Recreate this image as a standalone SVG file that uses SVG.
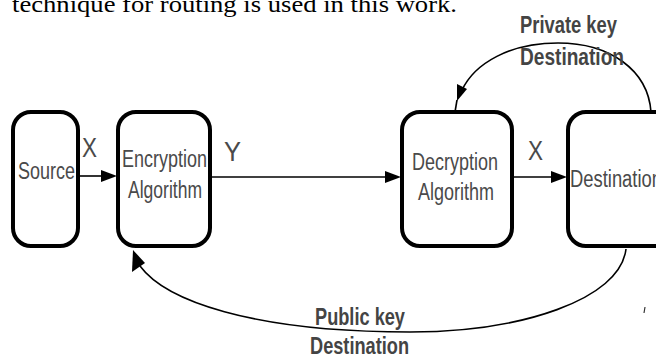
<svg xmlns="http://www.w3.org/2000/svg" width="656" height="358" viewBox="0 0 656 358">
  <style>
    .box { fill: #fff; stroke: #000; stroke-width: 4; }
    .lbl { font-family: "Liberation Sans", Arial, sans-serif; fill: #4a4a4a; font-size: 23px; }
    .key { font-family: "Liberation Sans", Arial, sans-serif; fill: #444; font-size: 24px; font-weight: bold; }
    .sym { font-family: "Liberation Sans", Arial, sans-serif; fill: #4a4a4a; font-size: 27px; }
    .wire { fill: none; stroke: #000; stroke-width: 1.6; }
    .head { fill: #000; }
  </style>
  <rect width="656" height="358" fill="#fff"/>

  <!-- caption line from the surrounding text -->
  <text x="12" y="12" font-family="Liberation Serif, serif" font-size="23" fill="#000" textLength="445" lengthAdjust="spacingAndGlyphs">technique for routing is used in this work.</text>

  <g id="source">
    <rect class="box" x="13" y="112" width="65" height="134" rx="18"/>
    <text class="lbl" x="18" y="179" textLength="57" lengthAdjust="spacingAndGlyphs">Source</text>
  </g>

  <g id="encryption">
    <rect class="box" x="118" y="112" width="92" height="134" rx="18"/>
    <text class="lbl" x="122" y="167" textLength="85" lengthAdjust="spacingAndGlyphs">Encryption</text>
    <text class="lbl" x="128" y="198" textLength="74" lengthAdjust="spacingAndGlyphs">Algorithm</text>
  </g>

  <g id="decryption">
    <rect class="box" x="402" y="112" width="110" height="134" rx="18"/>
    <text class="lbl" x="412" y="170" textLength="86" lengthAdjust="spacingAndGlyphs">Decryption</text>
    <text class="lbl" x="418" y="200" textLength="76" lengthAdjust="spacingAndGlyphs">Algorithm</text>
  </g>

  <g id="destination">
    <rect class="box" x="568" y="112" width="110" height="134" rx="18"/>
    <text class="lbl" x="570" y="187" textLength="92" lengthAdjust="spacingAndGlyphs">Destination</text>
  </g>

  <g id="connectors">
    <!-- Source to Encryption -->
    <line class="wire" x1="80" y1="176" x2="104" y2="176"/>
    <polygon class="head" points="117,176 101,170 101,182"/>
    <text class="sym" x="82" y="157" textLength="15" lengthAdjust="spacingAndGlyphs">X</text>

    <!-- Encryption to Decryption -->
    <line class="wire" x1="212" y1="177" x2="388" y2="177"/>
    <polygon class="head" points="401,177 385,171 385,183"/>
    <text class="sym" x="224" y="161" font-size="32" textLength="17" lengthAdjust="spacingAndGlyphs">Y</text>

    <!-- Decryption to Destination -->
    <line class="wire" x1="514" y1="177" x2="554" y2="177"/>
    <polygon class="head" points="567,177 551,171 551,183"/>
    <text class="sym" x="528" y="160" textLength="15" lengthAdjust="spacingAndGlyphs">X</text>

    <!-- private key path, Destination back to Decryption -->
    <path class="wire" d="M651,112 C648,70 610,43 558,43 C510,43 475,63 462,90"/>
    <line class="wire" x1="457" y1="100" x2="455" y2="112"/>
    <polygon class="head" points="457,101 457,84 467,89"/>
    <text class="key" x="520" y="33" textLength="97" lengthAdjust="spacingAndGlyphs">Private key</text>
    <text class="key" x="520" y="65" textLength="104" lengthAdjust="spacingAndGlyphs">Destination</text>

    <!-- public key path, Destination back to Encryption -->
    <path class="wire" d="M626,249 C620,300 520,332 410,332 C250,332 165,300 140,266"/>
    <polygon class="head" points="133,250 132,272 145,263"/>
    <text class="key" x="315" y="325" textLength="90" lengthAdjust="spacingAndGlyphs">Public key</text>
    <text class="key" x="310" y="354" textLength="99" lengthAdjust="spacingAndGlyphs">Destination</text>

    <line x1="645" y1="307" x2="644" y2="313" stroke="#333" stroke-width="1.2"/>
  </g>
</svg>
